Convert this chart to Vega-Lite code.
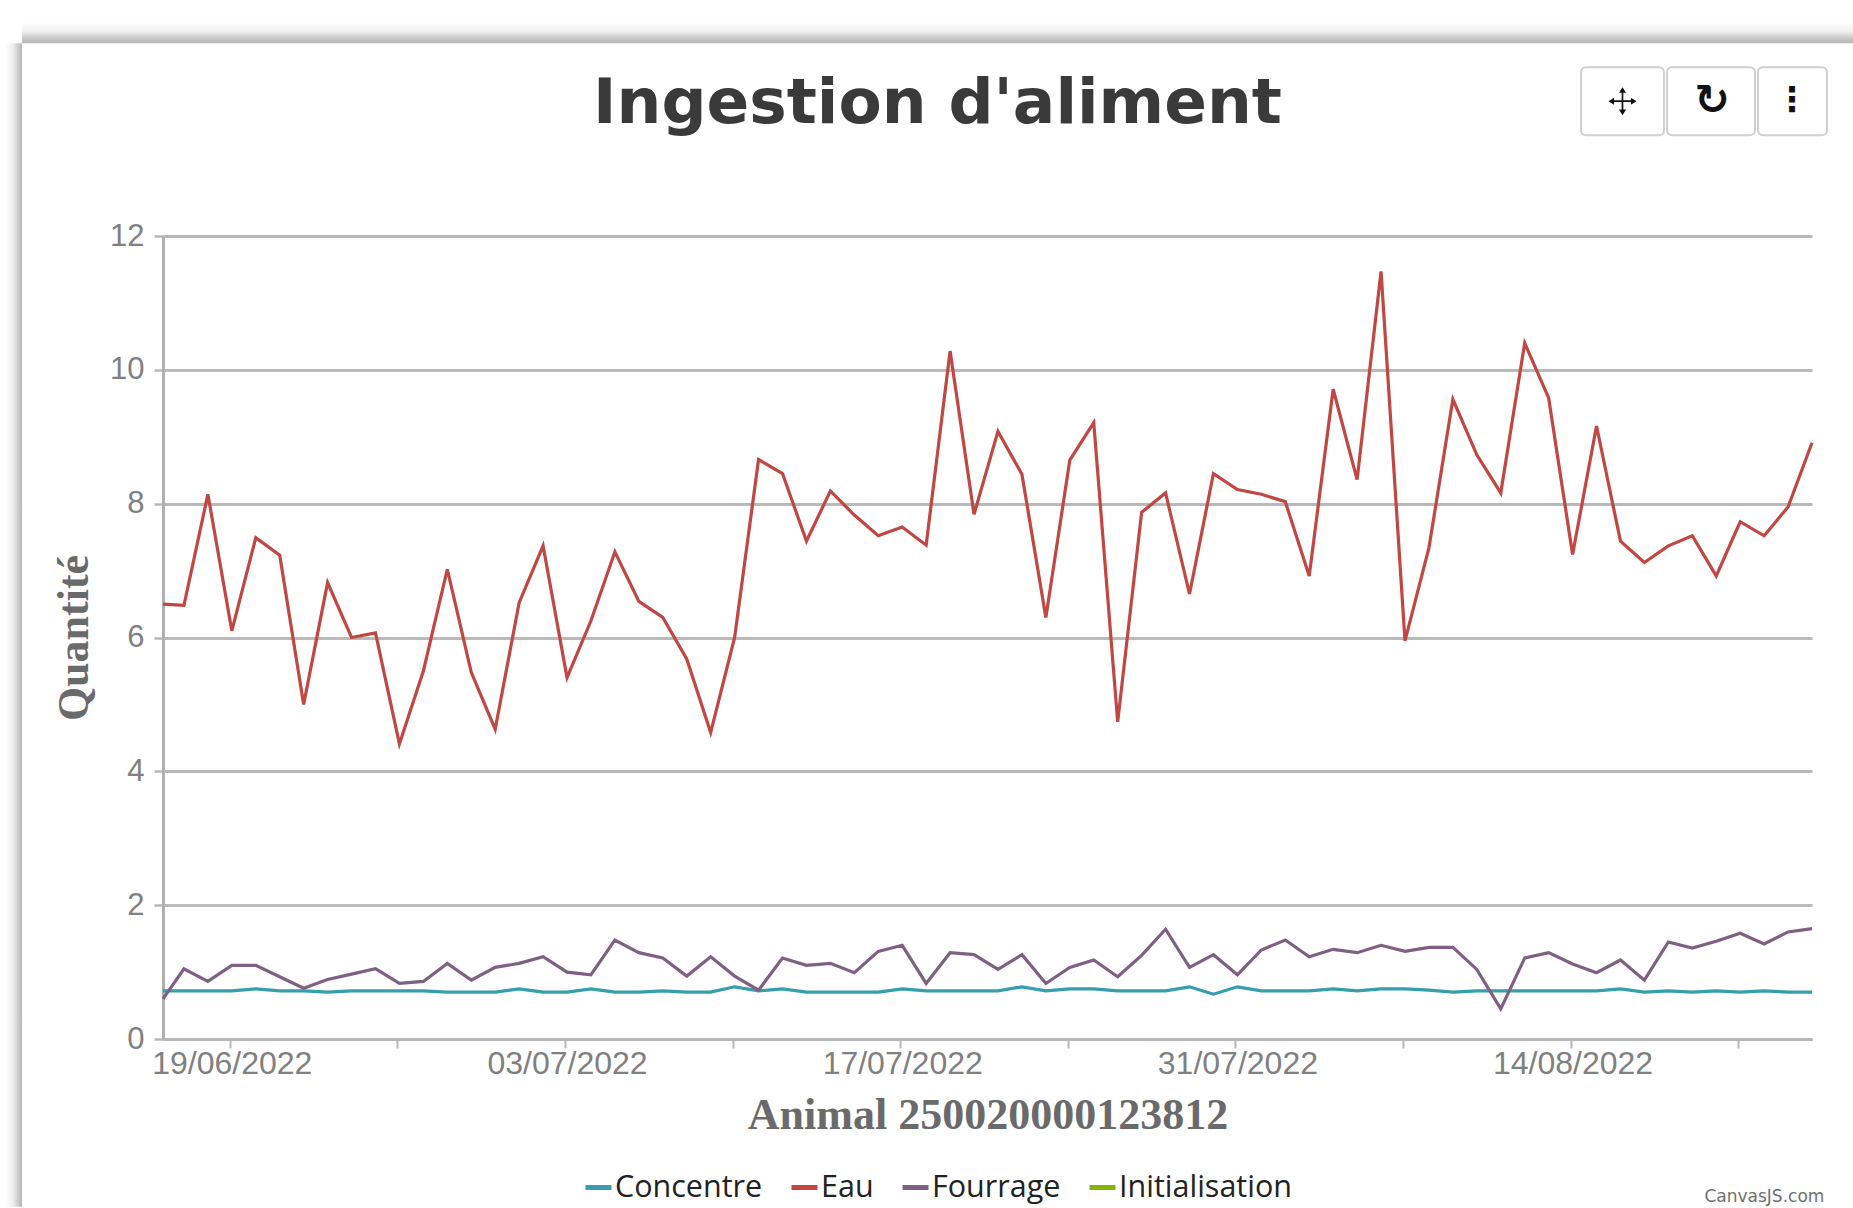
{
"$schema":"https://vega.github.io/schema/vega-lite/v6.json",
"autosize":"none",
"width":1649,"height":803,
"padding":{"left":163,"top":236,"right":41,"bottom":169},
"background":"white",
"title":{"text":"Ingestion d'aliment","font":"DejaVu Sans","fontWeight":"bold","fontSize":63,"color":"#3A3A3A","anchor":"middle","frame":"group","dx":-50,"dy":114,"offset":0},
"config":{"view":{"stroke":null}},
"layer":[
{"data":{"values":[{}]},"mark":{"type":"rect","clip":false,"color":{"gradient":"linear","x1":0,"y1":0,"x2":0,"y2":1,"stops":[{"offset":0,"color":"#FFFFFF"},{"offset":0.45,"color":"#EFEFEF"},{"offset":0.75,"color":"#CACACA"},{"offset":1,"color":"#B5B5B5"}]}},
 "encoding":{"x":{"datum":1654846770339,"type":"temporal","scale":{"type":"utc","nice":false,"domain":[1655355600000,1661306400000]}},"x2":{"datum":1661454338490},"y":{"datum":15.194,"type":"quantitative","scale":{"nice":false,"domain":[0,12]}},"y2":{"datum":14.881}}},
{"data":{"values":[{}]},"mark":{"type":"rect","clip":false,"color":{"gradient":"linear","x1":0,"y1":0,"x2":1,"y2":0,"stops":[{"offset":0,"color":"#FFFFFF"},{"offset":0.45,"color":"#EFEFEF"},{"offset":0.75,"color":"#D0D0D0"},{"offset":1,"color":"#B5B5B5"}]}},
 "encoding":{"x":{"datum":1654785422082,"type":"temporal","scale":{"type":"utc","nice":false,"domain":[1655355600000,1661306400000]}},"x2":{"datum":1654846770339},"y":{"datum":14.881,"type":"quantitative","scale":{"nice":false,"domain":[0,12]}},"y2":{"datum":-2.507}}},
{"data":{"values":[{"debut":1660472766378,"fin":1660772290221},{"debut":1660783116384,"fin":1661100683832},{"debut":1661111509995,"fin":1661360511744}]},"mark":{"type":"rect","clip":false,"fill":"white","stroke":"#D0D0D0","strokeWidth":2,"cornerRadius":5},
 "encoding":{"x":{"field":"debut","type":"temporal","scale":{"type":"utc","nice":false,"domain":[1655355600000,1661306400000]}},"x2":{"field":"fin"},"y":{"datum":14.522,"type":"quantitative","scale":{"nice":false,"domain":[0,12]}},"y2":{"datum":13.507}}},
{"data":{"values":[{"t":1660622528300}]},"mark":{"type":"point","clip":false,"filled":true,"opacity":1,"color":"#111111","size":784,"shape":"M-1,0 L-0.6,-0.25 L-0.6,-0.06 L-0.06,-0.06 L-0.06,-0.6 L-0.25,-0.6 L0,-1 L0.25,-0.6 L0.06,-0.6 L0.06,-0.06 L0.6,-0.06 L0.6,-0.25 L1,0 L0.6,0.25 L0.6,0.06 L0.06,0.06 L0.06,0.6 L0.25,0.6 L0,1 L-0.25,0.6 L-0.06,0.6 L-0.06,0.06 L-0.6,0.06 L-0.6,0.25 Z"},
 "encoding":{"x":{"field":"t","type":"temporal","scale":{"type":"utc","nice":false,"domain":[1655355600000,1661306400000]}},"y":{"datum":14.015,"type":"quantitative","scale":{"nice":false,"domain":[0,12]}}}},
{"data":{"values":[{"t":1660945508829,"g":"↻"}]},"mark":{"type":"text","clip":false,"font":"DejaVu Sans","fontWeight":"bold","fontSize":42,"color":"#111111","align":"center","baseline":"middle"},
 "encoding":{"x":{"field":"t","type":"temporal","scale":{"type":"utc","nice":false,"domain":[1655355600000,1661306400000]}},"y":{"datum":14.015,"type":"quantitative","scale":{"nice":false,"domain":[0,12]}},"text":{"field":"g"}}},
{"data":{"values":[{"t":1661234206509,"g":"⋮"}]},"mark":{"type":"text","clip":false,"font":"DejaVu Sans","fontWeight":"bold","fontSize":34,"color":"#111111","align":"center","baseline":"middle"},
 "encoding":{"x":{"field":"t","type":"temporal","scale":{"type":"utc","nice":false,"domain":[1655355600000,1661306400000]}},"y":{"datum":14.015,"type":"quantitative","scale":{"nice":false,"domain":[0,12]}},"text":{"field":"g"}}},
{"data":{"values":[{"t":1661134605809,"g":"CanvasJS.com"}]},"mark":{"type":"text","clip":false,"font":"DejaVu Sans","fontSize":17,"color":"#707070","align":"center","baseline":"middle"},
 "encoding":{"x":{"field":"t","type":"temporal","scale":{"type":"utc","nice":false,"domain":[1655355600000,1661306400000]}},"y":{"datum":-2.358,"type":"quantitative","scale":{"nice":false,"domain":[0,12]}},"text":{"field":"g"}}},
{"data":{"values":[
{"date":"2022-06-16T05:00:00Z","Concentre":0.72,"Eau":6.50,"Fourrage":0.60},
{"date":"2022-06-17T02:00:00Z","Concentre":0.72,"Eau":6.48,"Fourrage":1.05},
{"date":"2022-06-18T02:00:00Z","Concentre":0.72,"Eau":8.14,"Fourrage":0.86},
{"date":"2022-06-19T02:00:00Z","Concentre":0.72,"Eau":6.10,"Fourrage":1.10},
{"date":"2022-06-20T02:00:00Z","Concentre":0.75,"Eau":7.49,"Fourrage":1.10},
{"date":"2022-06-21T02:00:00Z","Concentre":0.72,"Eau":7.23,"Fourrage":0.93},
{"date":"2022-06-22T02:00:00Z","Concentre":0.72,"Eau":5.00,"Fourrage":0.76},
{"date":"2022-06-23T02:00:00Z","Concentre":0.70,"Eau":6.82,"Fourrage":0.89},
{"date":"2022-06-24T02:00:00Z","Concentre":0.72,"Eau":6.00,"Fourrage":0.97},
{"date":"2022-06-25T02:00:00Z","Concentre":0.72,"Eau":6.07,"Fourrage":1.05},
{"date":"2022-06-26T02:00:00Z","Concentre":0.72,"Eau":4.41,"Fourrage":0.83},
{"date":"2022-06-27T02:00:00Z","Concentre":0.72,"Eau":5.50,"Fourrage":0.86},
{"date":"2022-06-28T02:00:00Z","Concentre":0.70,"Eau":7.02,"Fourrage":1.13},
{"date":"2022-06-29T02:00:00Z","Concentre":0.70,"Eau":5.48,"Fourrage":0.88},
{"date":"2022-06-30T02:00:00Z","Concentre":0.70,"Eau":4.63,"Fourrage":1.07},
{"date":"2022-07-01T02:00:00Z","Concentre":0.75,"Eau":6.52,"Fourrage":1.13},
{"date":"2022-07-02T02:00:00Z","Concentre":0.70,"Eau":7.37,"Fourrage":1.23},
{"date":"2022-07-03T02:00:00Z","Concentre":0.70,"Eau":5.40,"Fourrage":1.00},
{"date":"2022-07-04T02:00:00Z","Concentre":0.75,"Eau":6.25,"Fourrage":0.96},
{"date":"2022-07-05T02:00:00Z","Concentre":0.70,"Eau":7.28,"Fourrage":1.48},
{"date":"2022-07-06T02:00:00Z","Concentre":0.70,"Eau":6.54,"Fourrage":1.29},
{"date":"2022-07-07T02:00:00Z","Concentre":0.72,"Eau":6.30,"Fourrage":1.21},
{"date":"2022-07-08T02:00:00Z","Concentre":0.70,"Eau":5.68,"Fourrage":0.94},
{"date":"2022-07-09T02:00:00Z","Concentre":0.70,"Eau":4.58,"Fourrage":1.23},
{"date":"2022-07-10T02:00:00Z","Concentre":0.78,"Eau":6.00,"Fourrage":0.94},
{"date":"2022-07-11T02:00:00Z","Concentre":0.72,"Eau":8.66,"Fourrage":0.73},
{"date":"2022-07-12T02:00:00Z","Concentre":0.75,"Eau":8.45,"Fourrage":1.21},
{"date":"2022-07-13T02:00:00Z","Concentre":0.70,"Eau":7.44,"Fourrage":1.10},
{"date":"2022-07-14T02:00:00Z","Concentre":0.70,"Eau":8.19,"Fourrage":1.13},
{"date":"2022-07-15T02:00:00Z","Concentre":0.70,"Eau":7.83,"Fourrage":0.99},
{"date":"2022-07-16T02:00:00Z","Concentre":0.70,"Eau":7.52,"Fourrage":1.31},
{"date":"2022-07-17T02:00:00Z","Concentre":0.75,"Eau":7.65,"Fourrage":1.40},
{"date":"2022-07-18T02:00:00Z","Concentre":0.72,"Eau":7.38,"Fourrage":0.83},
{"date":"2022-07-19T02:00:00Z","Concentre":0.72,"Eau":10.28,"Fourrage":1.29},
{"date":"2022-07-20T02:00:00Z","Concentre":0.72,"Eau":7.84,"Fourrage":1.26},
{"date":"2022-07-21T02:00:00Z","Concentre":0.72,"Eau":9.08,"Fourrage":1.04},
{"date":"2022-07-22T02:00:00Z","Concentre":0.78,"Eau":8.44,"Fourrage":1.26},
{"date":"2022-07-23T02:00:00Z","Concentre":0.72,"Eau":6.30,"Fourrage":0.83},
{"date":"2022-07-24T02:00:00Z","Concentre":0.75,"Eau":8.65,"Fourrage":1.07},
{"date":"2022-07-25T02:00:00Z","Concentre":0.75,"Eau":9.21,"Fourrage":1.18},
{"date":"2022-07-26T02:00:00Z","Concentre":0.72,"Eau":4.74,"Fourrage":0.93},
{"date":"2022-07-27T02:00:00Z","Concentre":0.72,"Eau":7.87,"Fourrage":1.25},
{"date":"2022-07-28T02:00:00Z","Concentre":0.72,"Eau":8.16,"Fourrage":1.64},
{"date":"2022-07-29T02:00:00Z","Concentre":0.78,"Eau":6.65,"Fourrage":1.07},
{"date":"2022-07-30T02:00:00Z","Concentre":0.67,"Eau":8.45,"Fourrage":1.26},
{"date":"2022-07-31T02:00:00Z","Concentre":0.78,"Eau":8.21,"Fourrage":0.96},
{"date":"2022-08-01T02:00:00Z","Concentre":0.72,"Eau":8.14,"Fourrage":1.33},
{"date":"2022-08-02T02:00:00Z","Concentre":0.72,"Eau":8.03,"Fourrage":1.48},
{"date":"2022-08-03T02:00:00Z","Concentre":0.72,"Eau":6.92,"Fourrage":1.23},
{"date":"2022-08-04T02:00:00Z","Concentre":0.75,"Eau":9.71,"Fourrage":1.34},
{"date":"2022-08-05T02:00:00Z","Concentre":0.72,"Eau":8.36,"Fourrage":1.29},
{"date":"2022-08-06T02:00:00Z","Concentre":0.75,"Eau":11.47,"Fourrage":1.40},
{"date":"2022-08-07T02:00:00Z","Concentre":0.75,"Eau":5.95,"Fourrage":1.31},
{"date":"2022-08-08T02:00:00Z","Concentre":0.73,"Eau":7.34,"Fourrage":1.37},
{"date":"2022-08-09T02:00:00Z","Concentre":0.70,"Eau":9.56,"Fourrage":1.37},
{"date":"2022-08-10T02:00:00Z","Concentre":0.72,"Eau":8.73,"Fourrage":1.04},
{"date":"2022-08-11T02:00:00Z","Concentre":0.72,"Eau":8.16,"Fourrage":0.45},
{"date":"2022-08-12T02:00:00Z","Concentre":0.72,"Eau":10.40,"Fourrage":1.21},
{"date":"2022-08-13T02:00:00Z","Concentre":0.72,"Eau":9.58,"Fourrage":1.29},
{"date":"2022-08-14T02:00:00Z","Concentre":0.72,"Eau":7.24,"Fourrage":1.12},
{"date":"2022-08-15T02:00:00Z","Concentre":0.72,"Eau":9.16,"Fourrage":0.99},
{"date":"2022-08-16T02:00:00Z","Concentre":0.75,"Eau":7.44,"Fourrage":1.18},
{"date":"2022-08-17T02:00:00Z","Concentre":0.70,"Eau":7.12,"Fourrage":0.88},
{"date":"2022-08-18T02:00:00Z","Concentre":0.72,"Eau":7.37,"Fourrage":1.45},
{"date":"2022-08-19T02:00:00Z","Concentre":0.70,"Eau":7.52,"Fourrage":1.36},
{"date":"2022-08-20T02:00:00Z","Concentre":0.72,"Eau":6.92,"Fourrage":1.46},
{"date":"2022-08-21T02:00:00Z","Concentre":0.70,"Eau":7.73,"Fourrage":1.58},
{"date":"2022-08-22T02:00:00Z","Concentre":0.72,"Eau":7.52,"Fourrage":1.42},
{"date":"2022-08-23T02:00:00Z","Concentre":0.70,"Eau":7.95,"Fourrage":1.60},
{"date":"2022-08-24T02:00:00Z","Concentre":0.70,"Eau":8.91,"Fourrage":1.65}
]},
"transform":[{"fold":["Concentre","Eau","Fourrage"],"as":["serie","quantite"]}],
"mark":{"type":"line","strokeWidth":3.2,"strokeJoin":"miter"},
"encoding":{
 "x":{"field":"date","type":"temporal","scale":{"type":"utc","nice":false,"domain":[1655355600000,1661306400000]},
  "axis":{"title":"Animal 250020000123812","titleFont":"Liberation Serif","titleFontWeight":"bold","titleFontSize":44,"titleColor":"#6A6A6A","titlePadding":14,
   "values":[1655596800000,1656201600000,1656806400000,1657411200000,1658016000000,1658620800000,1659225600000,1659830400000,1660435200000,1661040000000],
   "labelExpr":"(+datum.value - 1655596800000) % 1209600000 === 0 ? utcFormat(datum.value,'%d/%m/%Y') : ''",
   "labelFont":"Liberation Sans","labelFontSize":32,"labelColor":"#808080","labelPadding":0,"labelOffset":2,"labelOverlap":false,"labelFlush":false,"labelBound":false,
   "grid":false,"domainColor":"#B8B8B8","domainWidth":3,"tickColor":"#B8B8B8","tickWidth":2,"tickSize":9}},
 "y":{"field":"quantite","type":"quantitative","scale":{"nice":false,"domain":[0,12]},
  "axis":{"title":"Quantité","titleFont":"Liberation Serif","titleFontWeight":"bold","titleFontSize":44,"titleColor":"#6A6A6A","titlePadding":13,
   "values":[0,2,4,6,8,10,12],"format":"d","labelFont":"Liberation Sans","labelFontSize":31,"labelColor":"#808080","labelPadding":10,
   "grid":true,"gridColor":"#BABABA","gridWidth":3,"domainColor":"#B0B0B0","domainWidth":3,"tickColor":"#B8B8B8","tickWidth":2.5,"tickSize":9}},
 "color":{"field":"serie","type":"nominal","scale":{"domain":["Concentre","Eau","Fourrage","Initialisation"],"range":["#369EAD","#C24642","#7F6084","#86B402"]},
  "legend":{"title":null,"orient":"none","legendX":420,"legendY":936,"direction":"horizontal","columns":4,"symbolType":"stroke","symbolSize":676,"symbolStrokeWidth":5,"labelFont":"Open Sans","labelFontSize":30.5,"labelLimit":0,"labelColor":"#222222","labelOffset":1,"columnPadding":18,"symbolOpacity":1}}
}}
]
}
